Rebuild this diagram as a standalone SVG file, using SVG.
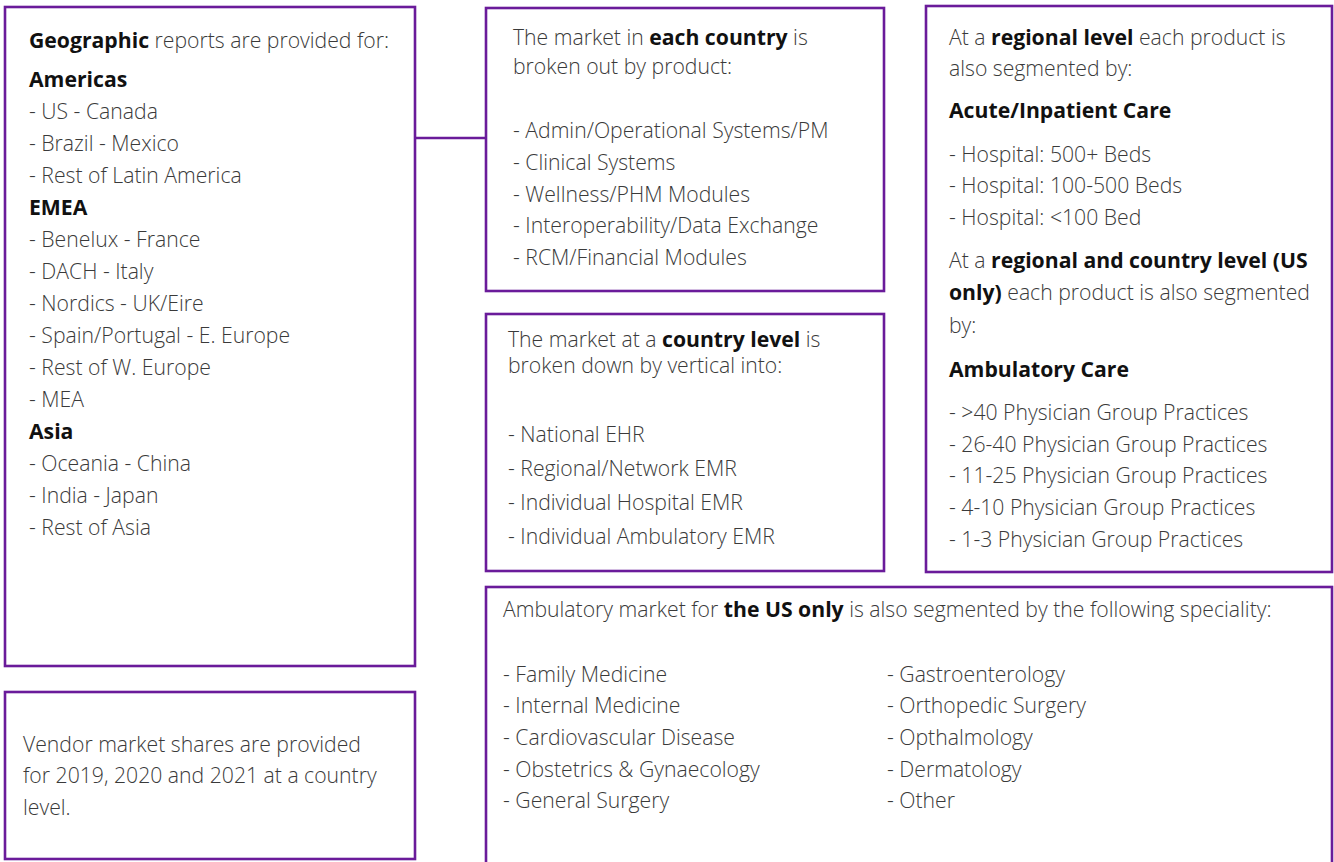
<svg xmlns="http://www.w3.org/2000/svg" width="1334" height="862" viewBox="0 0 1334 862">
<style>
.box{fill:#fff;stroke:#6a1b9a;stroke-width:2.6}
.conn{stroke:#6a1b9a;stroke-width:2.6;fill:none}
text{font-family:"Open Sans","Noto Sans","Liberation Sans",sans-serif;font-size:21.2px;font-weight:300;fill:#3a3a3a}
.b{font-weight:700;fill:#111}
</style>
<rect width="1334" height="862" fill="#fff"/>
<g id="connectors">
<line class="conn" x1="415" y1="138" x2="486" y2="138"/>
</g>
<g id="geographic">
<rect class="box" x="5" y="7" width="410" height="659"/>
<text x="29" y="48"><tspan class="b">Geographic</tspan> reports are provided for:</text>
<text x="29" y="87" class="b">Americas</text>
<text x="29" y="119">- US - Canada</text>
<text x="29" y="151">- Brazil - Mexico</text>
<text x="29" y="183">- Rest of Latin America</text>
<text x="29" y="215" class="b">EMEA</text>
<text x="29" y="247">- Benelux - France</text>
<text x="29" y="279">- DACH - Italy</text>
<text x="29" y="311">- Nordics - UK/Eire</text>
<text x="29" y="343">- Spain/Portugal - E. Europe</text>
<text x="29" y="375">- Rest of W. Europe</text>
<text x="29" y="407">- MEA</text>
<text x="29" y="439" class="b">Asia</text>
<text x="29" y="471">- Oceania - China</text>
<text x="29" y="503">- India - Japan</text>
<text x="29" y="535">- Rest of Asia</text>
</g>
<g id="vendor">
<rect class="box" x="5" y="692" width="410" height="167"/>
<text x="23" y="752">Vendor market shares are provided</text>
<text x="23" y="783">for 2019, 2020 and 2021 at a country</text>
<text x="23" y="815">level.</text>
</g>
<g id="product">
<rect class="box" x="486" y="8" width="398" height="283"/>
<text x="513" y="45">The market in <tspan class="b">each country</tspan> is</text>
<text x="513" y="74">broken out by product:</text>
<text x="513" y="138">- Admin/Operational Systems/PM</text>
<text x="513" y="170">- Clinical Systems</text>
<text x="513" y="202">- Wellness/PHM Modules</text>
<text x="513" y="233">- Interoperability/Data Exchange</text>
<text x="513" y="265">- RCM/Financial Modules</text>
</g>
<g id="vertical">
<rect class="box" x="486" y="314" width="398" height="257"/>
<text x="508" y="347">The market at a <tspan class="b">country level</tspan> is</text>
<text x="508" y="373">broken down by vertical into:</text>
<text x="508" y="442">- National EHR</text>
<text x="508" y="476">- Regional/Network EMR</text>
<text x="508" y="510">- Individual Hospital EMR</text>
<text x="508" y="544">- Individual Ambulatory EMR</text>
</g>
<g id="regional">
<rect class="box" x="926" y="6" width="406" height="566"/>
<text x="949" y="45">At a <tspan class="b">regional level</tspan> each product is</text>
<text x="949" y="76">also segmented by:</text>
<text x="949" y="118" class="b">Acute/Inpatient Care</text>
<text x="949" y="162">- Hospital: 500+ Beds</text>
<text x="949" y="193">- Hospital: 100-500 Beds</text>
<text x="949" y="225">- Hospital: &lt;100 Bed</text>
<text x="949" y="268">At a <tspan class="b">regional and country level (US</tspan></text>
<text x="949" y="300"><tspan class="b">only)</tspan> each product is also segmented</text>
<text x="949" y="333">by:</text>
<text x="949" y="377" class="b">Ambulatory Care</text>
<text x="949" y="420">- &gt;40 Physician Group Practices</text>
<text x="949" y="452">- 26-40 Physician Group Practices</text>
<text x="949" y="483">- 11-25 Physician Group Practices</text>
<text x="949" y="515">- 4-10 Physician Group Practices</text>
<text x="949" y="547">- 1-3 Physician Group Practices</text>
</g>
<g id="speciality">
<rect class="box" x="486" y="587" width="846" height="300"/>
<text x="503" y="617">Ambulatory market for <tspan class="b">the US only</tspan> is also segmented by the following speciality:</text>
<text x="503" y="682">- Family Medicine</text>
<text x="503" y="713">- Internal Medicine</text>
<text x="503" y="745">- Cardiovascular Disease</text>
<text x="503" y="777">- Obstetrics &amp; Gynaecology</text>
<text x="503" y="808">- General Surgery</text>
<text x="887" y="682">- Gastroenterology</text>
<text x="887" y="713">- Orthopedic Surgery</text>
<text x="887" y="745">- Opthalmology</text>
<text x="887" y="777">- Dermatology</text>
<text x="887" y="808">- Other</text>
</g>
</svg>
